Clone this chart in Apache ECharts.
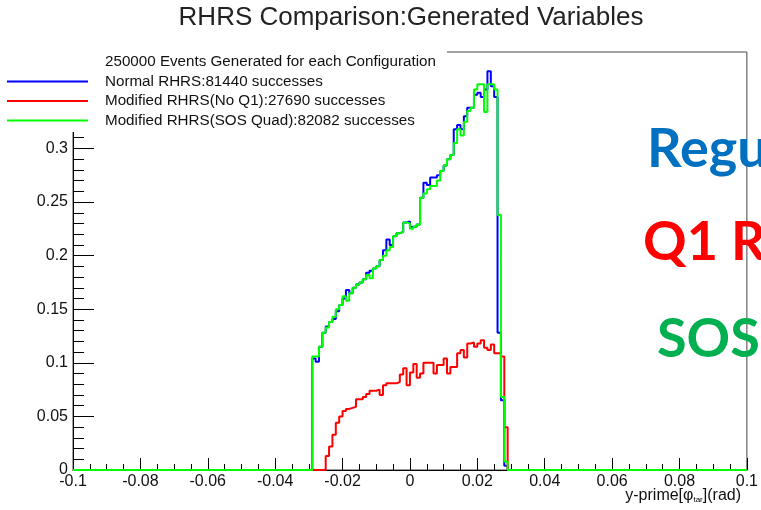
<!DOCTYPE html>
<html>
<head>
<meta charset="utf-8">
<script src="https://cdn.jsdelivr.net/npm/echarts@6/dist/echarts.min.js"></script>
<style>html,body{margin:0;padding:0;background:#fff}#c{width:761px;height:510px}</style>
</head>
<body>
<div id="c"></div>
<script>
// ---- data ----
const binWidth = 0.001;
const seriesNames = ['Normal RHRS:81440 successes', 'Modified RHRS(No Q1):27690 successes', 'Modified RHRS(SOS Quad):82082 successes'];
const headerText = '250000 Events Generated for each Configuration';
const normalStart = -0.029;
const normalValues = [0.104,0.101,0.115,0.128,0.134,0.138,0.141,0.148,0.154,0.160,
  0.168,0.165,0.170,0.173,0.175,0.178,0.184,0.186,0.188,0.190,
  0.196,0.205,0.215,0.210,0.218,0.221,0.222,0.231,0.232,0.227,
  0.227,0.229,0.254,0.268,0.266,0.273,0.273,0.275,0.279,0.284,
  0.290,0.294,0.318,0.322,0.318,0.330,0.338,0.338,0.350,0.352,
  0.348,0.355,0.372,0.358,0.348,0.128,0.065,0.004];
const noQ1Start = -0.025;
const noQ1Values = [0.013,0.022,0.033,0.044,0.050,0.055,0.057,0.058,0.059,0.066,
  0.066,0.068,0.071,0.074,0.074,0.075,0.070,0.079,0.081,0.081,
  0.081,0.082,0.089,0.095,0.079,0.091,0.099,0.086,0.090,0.100,
  0.100,0.100,0.090,0.098,0.098,0.104,0.090,0.096,0.096,0.109,
  0.112,0.105,0.118,0.119,0.115,0.118,0.121,0.114,0.112,0.117,
  0.109,0.109,0.106,0.040];
const sosStart = -0.029;
const sosValues = [0.106,0.106,0.115,0.128,0.133,0.138,0.143,0.150,0.154,0.162,
  0.158,0.165,0.170,0.173,0.175,0.178,0.182,0.179,0.188,0.190,
  0.196,0.200,0.205,0.208,0.218,0.221,0.222,0.231,0.230,0.225,
  0.227,0.229,0.254,0.258,0.262,0.265,0.265,0.270,0.279,0.284,
  0.290,0.294,0.305,0.318,0.312,0.325,0.335,0.338,0.355,0.360,
  0.360,0.334,0.360,0.360,0.355,0.238,0.068,0.008];
const xMin = -0.1, xMax = 0.1, xInterval = 0.02;
const yMin = 0, yMax = 0.39, yInterval = 0.05;
const sideTexts = ['Regu', 'Q1 R', 'SOS'];

// ---- build step histogram points ----
function histPoints(start, vals) {
  const pts = [[xMin, 0]];
  for (let i = 0; i < vals.length; i++) pts.push([+(start + i * binWidth).toFixed(4), vals[i]]);
  pts.push([+(start + vals.length * binWidth).toFixed(4), 0]);
  pts.push([xMax, 0]);
  return pts;
}
const colors = ['#0000ff', '#ff0000', '#00ff00'];
const chart = echarts.init(document.getElementById('c'), null, {renderer: 'canvas'});
const mkSeries = (name, start, vals, color, z) => ({
  name, type: 'line', step: 'end', data: histPoints(start, vals), showSymbol: false, symbol: 'none',
  lineStyle: {color, width: 2}, itemStyle: {color}, z, animation: false, clip: true
});
const labelFont = 'Liberation Sans, Arial, sans-serif';
chart.setOption({
  animation: false,
  backgroundColor: '#fff',
  grid: {left: 73, right: 13, top: 52, bottom: 40, show: true, borderColor: '#444', borderWidth: 1, backgroundColor: 'transparent'},
  xAxis: {
    type: 'value', min: xMin, max: xMax, interval: xInterval,
    axisLine: {show: true, onZero: false, lineStyle: {color: '#000', width: 1}},
    axisTick: {show: true, inside: true, length: 12, lineStyle: {color: '#000'}},
    minorTick: {show: true, splitNumber: 4, length: 6, lineStyle: {color: '#000'}},
    splitLine: {show: false},
    axisLabel: {color: '#111', fontFamily: labelFont, fontSize: 16, margin: 4}
  },
  yAxis: {
    type: 'value', min: yMin, max: yMax, interval: yInterval,
    axisLine: {show: true, onZero: false, lineStyle: {color: '#000', width: 1}},
    axisTick: {show: true, inside: true, length: 21, lineStyle: {color: '#000'}},
    minorTick: {show: true, splitNumber: 5, length: 11, lineStyle: {color: '#000'}},
    splitLine: {show: false},
    axisLabel: {color: '#111', fontFamily: labelFont, fontSize: 16, margin: 5, showMaxLabel: false}
  },
  legend: {
    show: true, orient: 'vertical', left: 7, top: 74, padding: 0, itemWidth: 81, itemHeight: 2, itemGap: 4.5,
    icon: 'rect', selectedMode: false, z: 101,
    data: seriesNames,
    textStyle: {fontFamily: labelFont, fontSize: 15.2, lineHeight: 15, color: '#111', padding: [0, 0, 0, 12]}
  },
  series: [
    mkSeries(seriesNames[0], normalStart, normalValues, colors[0], 2),
    mkSeries(seriesNames[1], noQ1Start, noQ1Values, colors[1], 3),
    mkSeries(seriesNames[2], sosStart, sosValues, colors[2], 4)
  ],
  graphic: [
    {type: 'rect', z: 100, shape: {x: 0, y: 40, width: 447, height: 92}, style: {fill: '#fff'}},
    {type: 'text', z: 102, left: 105, top: 54, style: {text: headerText, font: '15.2px Liberation Sans, Arial, sans-serif', fill: '#111'}},
    {type: 'text', z: 102, x: 411, y: 18, style: {text: 'RHRS Comparison:Generated Variables', font: '26px Liberation Sans, Arial, sans-serif', fill: '#222', textAlign: 'center', textVerticalAlign: 'middle'}},
    {type: 'text', z: 102, x: 741, y: 496, style: {
      text: '{a|y-prime[φ}{s|tar}{a|](rad)}', textAlign: 'right', textVerticalAlign: 'middle',
      rich: {a: {fontFamily: labelFont, fontSize: 16, fill: '#111', color: '#111'}, s: {fontFamily: labelFont, fontSize: 8, color: '#111', padding: [8, 0, 0, 0]}}
    }},
    {type: 'text', z: 110, x: 647, y: 150, style: {text: sideTexts[0], font: 'bold 54px Lato, sans-serif', fill: '#0070c0', textVerticalAlign: 'middle'}},
    {type: 'text', z: 110, x: 643, y: 243, style: {text: sideTexts[1], font: 'bold 54px Lato, sans-serif', fill: '#ff0000', textVerticalAlign: 'middle'}},
    {type: 'text', z: 110, x: 657, y: 340, style: {text: sideTexts[2], font: 'bold 54px Lato, sans-serif', fill: '#00b050', textVerticalAlign: 'middle'}}
  ]
});
</script>
</body>
</html>
